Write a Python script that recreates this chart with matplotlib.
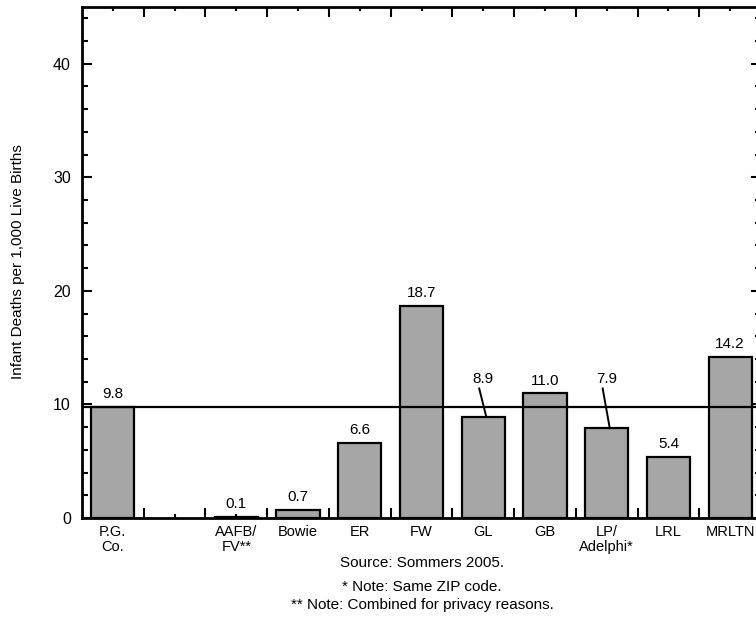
import matplotlib.pyplot as plt
from matplotlib.ticker import FixedLocator, MultipleLocator

plt.rcParams['font.family'] = ['Liberation Sans', 'DejaVu Sans']

# infant mortality by area, one empty slot after the county figure
areas = ['P.G.\nCo.', '', 'AAFB/\nFV**', 'Bowie', 'ER', 'FW', 'GL', 'GB',
         'LP/\nAdelphi*', 'LRL', 'MRLTN']
rates = [9.8, None, 0.1, 0.7, 6.6, 18.7, 8.9, 11.0, 7.9, 5.4, 14.2]
county_rate = 9.8

notes = ['Source: Sommers 2005.',
         '* Note: Same ZIP code.',
         '** Note: Combined for privacy reasons.']

# labels that would sit on the county line get lifted and get a leader
lifted = {'GL': 12.2, 'LP/\nAdelphi*': 12.2}

W, H = 756, 621
fig = plt.figure(figsize=(W / 100, H / 100), dpi=100)
ax = fig.add_axes([82 / W, 1 - 518 / H, (761 - 82) / W, (518 - 7) / H])

xs = [i for i, r in enumerate(rates) if r is not None]
vals = [r for r in rates if r is not None]
ax.bar(xs, vals, width=0.7, color='#a6a6a6', edgecolor='black',
       linewidth=1.6, zorder=2)
ax.axhline(county_rate, color='black', lw=1.6, zorder=3)

for x in xs:
    v = rates[x]
    name = areas[x]
    if name in lifted:
        ly = lifted[name]
        ax.text(x, ly, f'{v:.1f}', ha='center', va='center', fontsize=11)
        ax.plot([x - 0.065, x + 0.05], [ly - 0.8, v], color='black',
                lw=1.4, zorder=4)
    else:
        ax.annotate(f'{v:.1f}', (x, v), xytext=(0, 4),
                    textcoords='offset points', ha='center', va='bottom',
                    fontsize=11)

ax.set_xlim(-0.5, len(areas) - 0.5)
ax.set_ylim(0, 45)

ax.xaxis.set_major_locator(FixedLocator([i + 0.5 for i in range(len(areas))]))
ax.xaxis.set_minor_locator(FixedLocator(range(len(areas))))
ax.set_xticks(range(len(areas)), minor=True)
ax.set_xticklabels([], minor=False)
ax.set_xticklabels(areas, minor=True)
ax.yaxis.set_major_locator(MultipleLocator(10))
ax.yaxis.set_minor_locator(MultipleLocator(2))

ax.tick_params(which='both', direction='in', top=True, right=True,
               width=1.5, labelsize=11.5)
ax.tick_params(which='major', length=7, pad=8)
ax.tick_params(axis='x', which='minor', length=3, pad=5, labelsize=10.5)
ax.tick_params(axis='y', which='minor', length=4)
for lab in ax.get_xticklabels(minor=True):
    lab.set_linespacing(1.1)

for s in ax.spines.values():
    s.set_linewidth(2)

fig.text(18 / W, 1 - 262 / H, 'Infant Deaths per 1,000 Live Births',
         rotation=90, ha='center', va='center', fontsize=11)
for txt, y in zip(notes, [563, 587, 605]):
    fig.text(422 / W, 1 - y / H, txt, ha='center', va='center', fontsize=11)

fig.savefig('out.png', dpi=100)
